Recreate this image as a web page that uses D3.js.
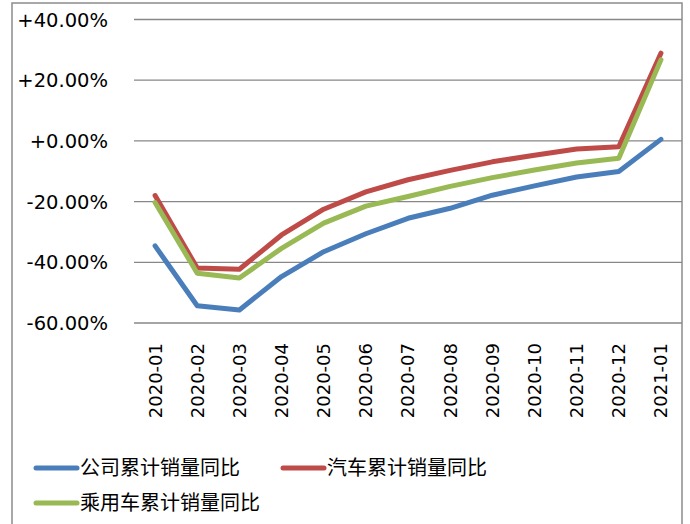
<!DOCTYPE html>
<html><head><meta charset="utf-8">
<script src="https://cdn.jsdelivr.net/npm/d3@7"></script>
<style>body{margin:0;background:#fff}svg{display:block}</style>
</head><body>
<svg id="c" width="690" height="524"></svg>
<script>
const categories = ["2020-01","2020-02","2020-03","2020-04","2020-05","2020-06","2020-07","2020-08","2020-09","2020-10","2020-11","2020-12","2021-01"];
const companyValues = [-34.6,-54.3,-55.7,-44.7,-36.5,-30.6,-25.5,-22.2,-17.9,-14.8,-11.9,-10.1,0.5];
const autoValues    = [-18.0,-41.9,-42.3,-31.0,-22.5,-16.8,-12.8,-9.7,-6.9,-4.7,-2.7,-1.9,28.9];
const passengerValues = [-20.3,-43.6,-45.2,-35.4,-27.1,-21.5,-18.3,-15.0,-12.1,-9.6,-7.3,-5.7,26.7];
const seriesNames = ["公司累计销量同比","汽车累计销量同比","乘用车累计销量同比"];
const yTicks = [40,20,0,-20,-40,-60];
const colors = ["#4a7ebb","#be4b48","#98b954"];

const svg = d3.select("#c");
const L = 134, R = 682, T = 19.5, B = 323;
const x = d3.scaleBand().domain(categories).range([L, R]);
const y = d3.scaleLinear().domain([-60, 40]).range([B, T]);

// outer border
svg.append("rect").attr("x",12).attr("y",3).attr("width",670).attr("height",540)
  .attr("fill","none").attr("stroke","#8c8c8c").attr("stroke-width",1.5);

// gridlines
svg.append("g").selectAll("line").data(yTicks).join("line")
  .attr("x1",L).attr("x2",R).attr("y1",d=>y(d)).attr("y2",d=>y(d))
  .attr("stroke","#878787").attr("stroke-width",1.3);

// y labels
const fmt = d => (d>=0?"+":"") + d.toFixed(2) + "%";
svg.append("g").selectAll("text").data(yTicks).join("text")
  .attr("x",108).attr("y",d=>y(d)).attr("dy","0.36em")
  .attr("text-anchor","end")
  .style("font-family","DejaVu Sans").style("font-size","19.5px").attr("fill","#000")
  .text(fmt);

// x labels
svg.append("g").selectAll("text").data(categories).join("text")
  .attr("transform",d=>`translate(${x(d)+x.bandwidth()/2},343) rotate(-90)`)
  .attr("dy","0.36em").attr("text-anchor","end")
  .style("font-family","DejaVu Sans").style("font-size","18px").attr("fill","#000")
  .text(d=>d);

// lines
const all = [companyValues, autoValues, passengerValues];
const line = d3.line().x((d,i)=>x(categories[i])+x.bandwidth()/2).y(d=>y(d));
[0,1,2].forEach(k=>{
  svg.append("path").datum(all[k]).attr("d",line)
    .attr("fill","none").attr("stroke",colors[k]).attr("stroke-width",5)
    .attr("stroke-linejoin","round").attr("stroke-linecap","round");
});

// legend
const legPos = [[36,468],[283,468],[36,503]];
seriesNames.forEach((n,k)=>{
  const [lx,ly] = legPos[k];
  svg.append("line").attr("x1",lx).attr("x2",lx+41).attr("y1",ly).attr("y2",ly)
    .attr("stroke",colors[k]).attr("stroke-width",5).attr("stroke-linecap","round");
  svg.append("text").attr("x",lx+44).attr("y",ly).attr("dy","0.36em")
    .style("font-family","Noto Sans CJK SC").style("font-size","20px").attr("fill","#000")
    .text(n);
});
</script>
</body></html>
